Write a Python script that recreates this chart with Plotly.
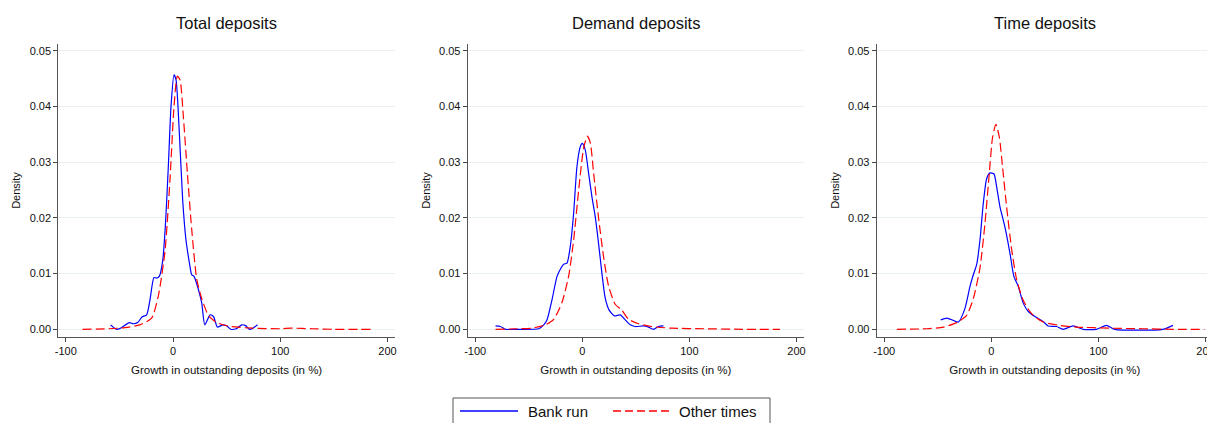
import plotly.graph_objects as go
from plotly.subplots import make_subplots

titles = ["Total deposits", "Demand deposits", "Time deposits"]
legend_names = ["Bank run", "Other times"]

# Panel 1: Total deposits
total_run_x = [-58.3, -52.6, -49, -40.8, -37, -33, -29, -24.6, -21.5, -17.8, -15.3, -12.8, -9.7, -7.2, -4.4, -1.9, 0.9, 2.8, 5.9, 9, 12.1, 15.3, 17.4, 19.6, 23.7, 26.8, 29.6, 34.6, 37.7, 41.4, 46.4, 50.2, 53.9, 58.9, 64.2, 67.3, 71.3, 74.5, 78.8]
total_run_y = [0.0008, 0.0000, 0.0002, 0.0012, 0.0010, 0.0012, 0.0022, 0.0026, 0.0053, 0.0093, 0.0092, 0.0095, 0.0122, 0.0184, 0.0292, 0.0400, 0.0457, 0.0448, 0.0352, 0.0232, 0.0160, 0.0119, 0.0098, 0.0095, 0.0071, 0.0047, 0.0008, 0.0026, 0.0023, 0.0004, 0.0008, 0.0006, 0.0000, 0.0001, 0.0008, 0.0007, 0.0000, 0.0002, 0.0008]
total_other_x = [-84.4, -60, -45, -31, -20, -13.7, -7.5, -2.8, 0.9, 4, 6.5, 9.7, 13.4, 17.4, 22.1, 26.8, 33, 40.8, 53.3, 75, 100, 110, 130, 150, 184.7]
total_other_y = [0.0, 0.0001, 0.0003, 0.0008, 0.0020, 0.0060, 0.0140, 0.0270, 0.0400, 0.0455, 0.0448, 0.0380, 0.0280, 0.0180, 0.0090, 0.0055, 0.0025, 0.0012, 0.0005, 0.0002, 0.0001, 0.0002, 0.0001, 0.0, 0.0]

# Panel 2: Demand deposits
demand_run_x = [-81, -76.4, -71.7, -62.4, -40.7, -36, -32.9, -28.3, -23.6, -20.5, -17.4, -14.3, -11.2, -8.1, -5, -1.9, 0, 2.8, 5.9, 9, 12.1, 15.2, 18.3, 21.4, 25.2, 30.1, 35.4, 40.1, 44.7, 49.4, 57.1, 61.8, 66.5, 71.1, 75.8]
demand_run_y = [0.0006, 0.0005, 0.0, 0.0, 0.0001, 0.0008, 0.0017, 0.0053, 0.0095, 0.0108, 0.0117, 0.0119, 0.0149, 0.0208, 0.0292, 0.0328, 0.0334, 0.0322, 0.0280, 0.0238, 0.0202, 0.0154, 0.0101, 0.0056, 0.0034, 0.0024, 0.0026, 0.0017, 0.0008, 0.0005, 0.0006, 0.0004, 0.0, 0.0005, 0.0006]
demand_other_x = [-81, -60, -47, -34.5, -26.7, -19, -12.7, -8.1, -3.4, 1.2, 4.7, 7.5, 10.6, 15.2, 19.9, 24.5, 30.7, 37, 43.2, 52.5, 64.9, 83.5, 114.6, 150, 184.5]
demand_other_y = [0.0, 0.0001, 0.0002, 0.0008, 0.0018, 0.0048, 0.0096, 0.0160, 0.0250, 0.0325, 0.0347, 0.0335, 0.0280, 0.0200, 0.0130, 0.0078, 0.0045, 0.0034, 0.0018, 0.0010, 0.0005, 0.0002, 0.0001, 0.0, 0.0]

# Panel 3: Time deposits
time_run_x = [-47.2, -41.6, -35.4, -30.7, -24.5, -19.9, -16.8, -13.7, -10.6, -7.5, -4.3, -1.2, 2.5, 5, 8.1, 12.7, 17.4, 21.1, 25.2, 29.8, 34.5, 40.7, 48.4, 53.1, 60.9, 67.1, 76.4, 85.7, 98.1, 107.5, 115.2, 160.2, 169.6]
time_run_y = [0.0017, 0.0020, 0.0016, 0.0013, 0.0038, 0.0077, 0.0098, 0.0116, 0.0160, 0.0226, 0.0271, 0.0281, 0.0279, 0.0256, 0.0220, 0.0184, 0.0137, 0.0095, 0.0077, 0.0047, 0.0032, 0.0023, 0.0014, 0.0006, 0.0005, 0.0, 0.0006, 0.0, 0.0, 0.0007, 0.0, 0.0, 0.0007]
time_other_x = [-88.2, -60.2, -44.7, -32.3, -23, -16.8, -10.6, -5.9, -1.9, 1.2, 4.3, 7.5, 10.6, 14.3, 18.9, 23.6, 29.8, 37.6, 48.4, 64, 79.5, 110.6, 141.6, 170, 199]
time_other_y = [0.0, 0.0001, 0.0004, 0.0012, 0.0025, 0.0055, 0.0110, 0.0190, 0.0280, 0.0345, 0.0368, 0.0345, 0.0290, 0.0220, 0.0145, 0.0090, 0.0052, 0.0028, 0.0013, 0.0007, 0.0004, 0.0002, 0.0001, 0.0, 0.0]

x_ticks = [-100, 0, 100, 200]
x_tick_labels = ["-100", "0", "100", "200"]
y_ticks = [0.0, 0.01, 0.02, 0.03, 0.04, 0.05]

series = [
    (total_run_x, total_run_y, total_other_x, total_other_y),
    (demand_run_x, demand_run_y, demand_other_x, demand_other_y),
    (time_run_x, time_run_y, time_other_x, time_other_y),
]

# The page body has an 8px default margin, so the figure is drawn 8px smaller
# and every position below is given in window pixels minus that offset.
OFF = 8
W, H = 1215 - OFF, 423 - OFF
FONT = "Liberation Sans, Arial, sans-serif"
BLUE, RED = "#0000ff", "#ff0000"
DASH = "9px,4px"


def px_x(v):
    return (v - OFF) / W


def px_y(v):
    return 1 - (v - OFF) / H


fig = make_subplots(rows=1, cols=3)

xdomains = [(px_x(58.3), px_x(395)), (px_x(467.7), px_x(804)), (px_x(876.7), min(1.0, px_x(1213)))]
ydomain = (px_y(336.7), px_y(44.3))

for i, (rx, ry, ox, oy) in enumerate(series):
    c = i + 1
    fig.add_trace(go.Scatter(x=rx, y=ry, mode="lines", name=legend_names[0],
                             line=dict(color=BLUE, width=1.2, shape="spline", smoothing=0.6),
                             showlegend=False), row=1, col=c)
    fig.add_trace(go.Scatter(x=ox, y=oy, mode="lines", name=legend_names[1],
                             line=dict(color=RED, width=1.2, dash=DASH, shape="spline", smoothing=0.6),
                             showlegend=False), row=1, col=c)
    xa = "xaxis" if c == 1 else f"xaxis{c}"
    ya = "yaxis" if c == 1 else f"yaxis{c}"
    fig.layout[xa].update(
        domain=list(xdomains[i]), range=[-107, 207], tickvals=x_ticks, ticktext=x_tick_labels,
        ticks="outside", ticklen=4, tickcolor="#444", showgrid=False, zeroline=False,
        showline=True, linecolor="#555", linewidth=1, automargin=False,
        tickfont=dict(family=FONT, size=11, color="#111"),
        title=dict(text="Growth in outstanding deposits (in %)", standoff=10,
                   font=dict(family=FONT, size=11.5, color="#111")),
    )
    fig.layout[ya].update(
        domain=list(ydomain), range=[-0.00133, 0.0512], tickvals=y_ticks, tickformat=".2f",
        ticks="outside", ticklen=4, tickcolor="#444", showgrid=True, gridcolor="#e8f0f1",
        gridwidth=1, zeroline=False, showline=True, linecolor="#555", linewidth=1,
        automargin=False,
        tickfont=dict(family=FONT, size=11, color="#111"),
        title=dict(text="Density", standoff=6, font=dict(family=FONT, size=11, color="#111")),
    )
    fig.add_annotation(text=titles[i], xref="paper", yref="paper",
                       x=(xdomains[i][0] + xdomains[i][1]) / 2, y=px_y(23),
                       xanchor="center", yanchor="middle", showarrow=False,
                       font=dict(family=FONT, size=16.5, color="#111"))

# Legend box at the bottom
fig.add_shape(type="rect", xref="paper", yref="paper",
              x0=px_x(453), x1=px_x(770), y0=px_y(432), y1=px_y(398),
              line=dict(color="#555", width=1), fillcolor="white")
fig.add_shape(type="line", xref="paper", yref="paper",
              x0=px_x(460), x1=px_x(518), y0=px_y(411), y1=px_y(411),
              line=dict(color=BLUE, width=1.5))
fig.add_shape(type="line", xref="paper", yref="paper",
              x0=px_x(613), x1=px_x(672), y0=px_y(411), y1=px_y(411),
              line=dict(color=RED, width=1.5, dash="8px,4px"))
fig.add_annotation(text=legend_names[0], xref="paper", yref="paper", x=px_x(526), y=px_y(411),
                   xanchor="left", yanchor="middle", showarrow=False,
                   font=dict(family=FONT, size=15, color="#111"))
fig.add_annotation(text=legend_names[1], xref="paper", yref="paper", x=px_x(677), y=px_y(411),
                   xanchor="left", yanchor="middle", showarrow=False,
                   font=dict(family=FONT, size=15, color="#111"))

fig.update_layout(
    width=W, height=H, margin=dict(l=0, r=0, t=0, b=0),
    paper_bgcolor="white", plot_bgcolor="white",
    font=dict(family=FONT, color="#111"),
    showlegend=False,
)

fig.write_html("out.html")
